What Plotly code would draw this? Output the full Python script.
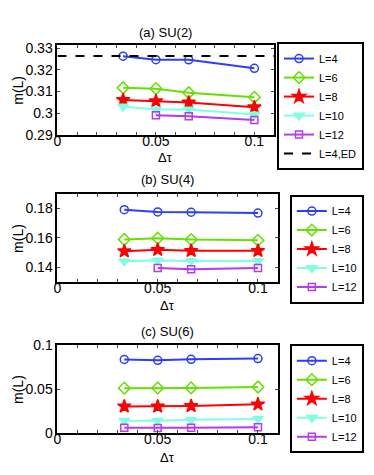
import plotly.graph_objects as go

# data
dtau = [1 / 30, 0.05, 1 / 15, 0.1]
series_names = ["L=4", "L=6", "L=8", "L=10", "L=12"]

su2 = {
    "L=4": [0.3263, 0.3247, 0.3246, 0.3207],
    "L=6": [0.3117, 0.3113, 0.3094, 0.3073],
    "L=8": [0.3061, 0.3055, 0.3049, 0.3027],
    "L=10": [0.3030, 0.3017, 0.3016, 0.2993],
    "L=12": [None, 0.2990, 0.2985, 0.2968],
}
su2_ed = 0.3264

su4 = {
    "L=4": [0.1791, 0.1776, 0.1774, 0.1768],
    "L=6": [0.1590, 0.1598, 0.1589, 0.1584],
    "L=8": [0.1511, 0.1520, 0.1513, 0.1513],
    "L=10": [0.1443, 0.1448, 0.1445, 0.1444],
    "L=12": [None, 0.1397, 0.1389, 0.1398],
}

su6 = {
    "L=4": [0.0836, 0.0827, 0.0838, 0.0847],
    "L=6": [0.0510, 0.0511, 0.0513, 0.0523],
    "L=8": [0.0302, 0.0302, 0.0308, 0.0326],
    "L=10": [0.0140, 0.0140, 0.0150, 0.0160],
    "L=12": [0.0058, 0.0055, 0.0060, 0.0066],
}

x_ticks = [0, 0.01, 0.02, 0.03, 0.04, 0.05, 0.06, 0.07, 0.08, 0.09, 0.1]
x_labels = ["0", "", "", "", "", "0.05", "", "", "", "", "0.1"]
y_ticks = [
    [0.29, 0.30, 0.31, 0.32, 0.33],
    [0.14, 0.16, 0.18],
    [0, 0.05, 0.1],
]
y_labels = [
    ["0.29", "0.3", "0.31", "0.32", "0.33"],
    ["0.14", "0.16", "0.18"],
    ["0", "0.05", "0.1"],
]
y_ranges = [[0.29, 0.3315], [0.13, 0.19], [0, 0.1]]
x_range = [0, 0.11]
titles = ["(a) SU(2)", "(b) SU(4)", "(c) SU(6)"]

styles = {
    "L=4": dict(color="#2b3dff", symbol="circle-open", size=8),
    "L=6": dict(color="#66e000", symbol="diamond-open", size=9),
    "L=8": dict(color="#ff0000", symbol="star", size=10),
    "L=10": dict(color="#80ffe0", symbol="triangle-down", size=9),
    "L=12": dict(color="#b43cf0", symbol="square-open", size=7),
}

# the page body keeps its 8px margin, so the figure sits 8px in from the corner
OFF = 8
W, H = 374 - 2 * OFF, 475 - 2 * OFF
# pixel boxes (window coords) of the plot areas: left, right, top, bottom
boxes = [(54, 273, 38, 131), (54, 277, 192, 284), (54, 277, 349, 440)]
legend_pos = [(276, 35), (289, 193), (289, 348)]
xlabel_y = [155, 308, 465]
title_y = [25, 177, 335]


def px(v):
    return (v - OFF) / W


def py(v):
    return 1 - (v - OFF) / H


fig = go.Figure()
font = "Liberation Sans, Arial, sans-serif"

for i, data in enumerate([su2, su4, su6]):
    n = "" if i == 0 else str(i + 1)
    leg = "legend" if i == 0 else "legend" + str(i + 1)
    for name in series_names:
        st = styles[name]
        fig.add_trace(go.Scatter(
            x=dtau, y=data[name], name=name, mode="lines+markers",
            line=dict(color=st["color"], width=2),
            marker=dict(symbol=st["symbol"], size=st["size"], color=st["color"],
                        line=dict(width=1.5, color=st["color"])),
            xaxis="x" + n, yaxis="y" + n, legend=leg,
        ))
    if i == 0:
        fig.add_trace(go.Scatter(
            x=x_range, y=[su2_ed, su2_ed], name="L=4,ED", mode="lines",
            line=dict(color="black", width=2, dash="dash"),
            xaxis="x", yaxis="y", legend="legend",
        ))

layout = dict(
    width=W, height=H, margin=dict(l=0, r=0, t=0, b=0),
    paper_bgcolor="white", plot_bgcolor="white",
    font=dict(family=font, color="black", size=14),
    annotations=[],
)

for i in range(3):
    l, r, t, b = boxes[i]
    n = "" if i == 0 else str(i + 1)
    layout["xaxis" + n] = dict(
        domain=[px(l), px(r)], range=x_range, anchor="y" + n,
        tickvals=x_ticks, ticktext=x_labels, ticks="inside", ticklen=3,
        tickwidth=1, showline=True, linewidth=2, linecolor="black",
        mirror="allticks", showgrid=False, zeroline=False,
        tickfont=dict(size=14), ticklabelstandoff=-8,
    )
    layout["yaxis" + n] = dict(
        domain=[py(b), py(t)], range=y_ranges[i], anchor="x" + n,
        tickvals=y_ticks[i], ticktext=y_labels[i], ticks="inside", ticklen=3,
        tickwidth=1, showline=True, linewidth=2, linecolor="black",
        mirror="allticks", showgrid=False, zeroline=False,
        tickfont=dict(size=14),
    )
    lx, ly = legend_pos[i]
    layout["legend" if i == 0 else "legend" + str(i + 1)] = dict(
        x=px(lx), y=py(ly), xanchor="left", yanchor="top",
        bordercolor="black", borderwidth=2, bgcolor="white",
        font=dict(size=11), tracegroupgap=0, itemwidth=30,
    )
    cx = px((l + r) / 2)
    layout["annotations"] += [
        dict(text=titles[i], x=cx, y=py(title_y[i]), xref="paper", yref="paper",
             xanchor="center", yanchor="middle", showarrow=False, font=dict(size=13)),
        dict(text="Δτ", x=cx, y=py(xlabel_y[i]), xref="paper", yref="paper",
             xanchor="center", yanchor="middle", showarrow=False, font=dict(size=13)),
        dict(text="m(L)", x=px(14), y=py((t + b) / 2), xref="paper", yref="paper",
             xanchor="center", yanchor="middle", showarrow=False, textangle=-90,
             font=dict(size=14)),
    ]

fig.update_layout(**layout)
fig.write_html("out.html")
